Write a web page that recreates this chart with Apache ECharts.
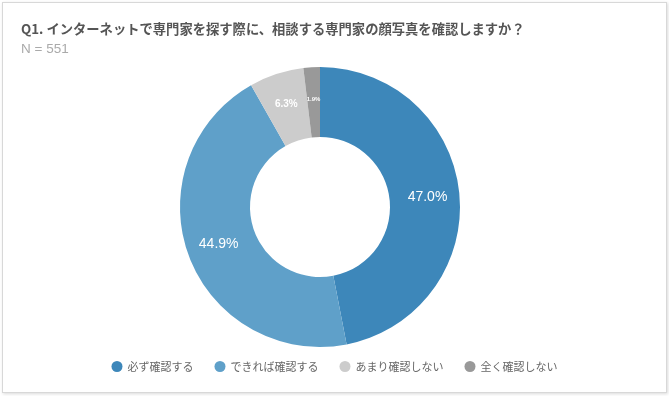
<!DOCTYPE html>
<html><head><meta charset="utf-8">
<script src="https://cdn.jsdelivr.net/npm/echarts@6/dist/echarts.min.js"></script>
<style>
html,body{margin:0;padding:0;background:#fff;}
#frame{position:absolute;left:2px;top:2px;width:663px;height:389px;border:1px solid #d8d8d8;box-shadow:1px 1px 3px rgba(0,0,0,0.15);}
#c{position:absolute;left:0;top:0;width:669px;height:396px;}
</style></head>
<body>
<div id="frame"></div>
<div id="c"></div>
<script>
const categories = ['必ず確認する','できれば確認する','あまり確認しない','全く確認しない'];
const values = [47.0, 44.9, 6.3, 1.9];
const colors = ['#3d87ba','#5fa0c9','#cccccc','#999999'];
const labelSizes = [14, 14, 10, 6];

const chart = echarts.init(document.getElementById('c'));
chart.setOption({
  animation:false,
  title:{
    text:'Q1. インターネットで専門家を探す際に、相談する専門家の顔写真を確認しますか？',
    subtext:'N = 551',
    left:16, top:17,
    itemGap:7,
    textStyle:{fontSize:13.3,fontWeight:'bold',color:'#555',fontFamily:'Noto Sans CJK JP'},
    subtextStyle:{fontSize:13.5,color:'#aaa',fontFamily:'Liberation Sans'}
  },
  legend:{
    bottom:19, left:'center',
    icon:'circle', itemWidth:11, itemHeight:11, itemGap:21,
    textStyle:{fontSize:11,color:'#666',fontFamily:'Noto Sans CJK JP'},
    data:categories
  },
  series:[{
    type:'pie',
    center:[320,207],
    radius:[70,140],
    startAngle:90,
    clockwise:true,
    label:{position:'inside',color:'#fff',formatter:p=>p.value.toFixed(1)+'%',fontFamily:'Liberation Sans'},
    labelLine:{show:false},
    itemStyle:{borderColor:'#fff',borderWidth:0},
    data:categories.map((n,i)=>({name:n,value:values[i],itemStyle:{color:colors[i]},label:{fontSize:labelSizes[i],fontWeight:i>=2?'bold':'normal'}}))
  }]
});
</script>
</body></html>
